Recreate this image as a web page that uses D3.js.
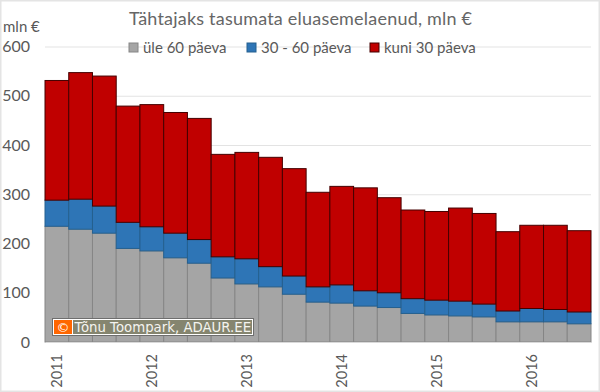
<!DOCTYPE html>
<html lang="et">
<head>
<meta charset="UTF-8">
<title>Tähtajaks tasumata eluasemelaenud</title>
<script src="https://d3js.org/d3.v7.min.js"></script>
<style>
    html, body { margin: 0; padding: 0; background: #fff; }
    svg { display: block; }
    text { font-family: Lato, "Open Sans", sans-serif; fill: #595959; }
</style>
</head>
<body>
<svg width="600" height="392"></svg>
<script>
// kvartalid 2011 Q1 - 2016 Q3
const quarters = ["2011-1","2011-2","2011-3","2011-4","2012-1","2012-2","2012-3","2012-4",
    "2013-1","2013-2","2013-3","2013-4","2014-1","2014-2","2014-3","2014-4",
    "2015-1","2015-2","2015-3","2015-4","2016-1","2016-2","2016-3"];
const yearTicks = ["2011-1","2012-1","2013-1","2014-1","2015-1","2016-1"];
const yTicks = [0, 100, 200, 300, 400, 500, 600];

const seriesKeys = ["yle60", "v30_60", "kuni30"];
const seriesNames = ["üle 60 päeva", "30 - 60 päeva", "kuni 30 päeva"];
const seriesColors = ["#a5a5a5", "#2e75b6", "#c00000"];
const seriesEdges = ["#868686", "#25608f", "#450000"];

const yle60 = [235, 229, 221, 190, 185, 171, 160, 130, 118, 112, 97, 81, 79, 73, 70, 58, 55, 53, 51, 41, 41, 41, 37];
const v30_60 = [53, 61, 55, 53, 49, 50, 48, 43, 51, 41, 37, 31, 37, 31, 30, 30, 30, 30, 26, 22, 27, 25, 24];
const kuni30 = [243, 257, 264, 236, 248, 245, 246, 208, 216, 222, 218, 192, 200, 209, 193, 180, 180, 189, 184, 161, 169, 171, 165];

const table = quarters.map((q, i) => ({ q, yle60: yle60[i], v30_60: v30_60[i], kuni30: kuni30[i] }));

const margin = { top: 46.5, right: 9, bottom: 50, left: 45 };
const width = 600 - margin.left - margin.right;
const height = 392 - margin.top - margin.bottom;

const svg = d3.select("svg");

// pildi raam
svg.append("rect")
    .attr("x", 0.5).attr("y", 0.5)
    .attr("width", 599).attr("height", 391)
    .attr("fill", "#fff")
    .attr("stroke", "#e4e4e4")
    .attr("stroke-width", 2);

const g = svg.append("g").attr("transform", `translate(${margin.left},${margin.top})`);

const x = d3.scaleBand().domain(quarters).range([0, width]).padding(0);
const y = d3.scaleLinear().domain([0, 600]).range([height, 0]);

// ruudustik ja y-telg
const yAxis = g.append("g")
    .call(d3.axisLeft(y).tickValues(yTicks).tickSize(-width).tickPadding(15));
yAxis.select(".domain").remove();
yAxis.selectAll("line").attr("stroke", "#e3e3e3").attr("stroke-width", 1);
yAxis.selectAll("text").style("font-size", "16px").style("fill", "#595959");

// tulbad
const stack = d3.stack().keys(seriesKeys)(table);
g.selectAll(".serie")
    .data(stack)
    .join("g")
    .attr("class", "serie")
    .attr("fill", (d, i) => seriesColors[i])
    .attr("stroke", (d, i) => seriesEdges[i])
    .selectAll("rect")
    .data(d => d)
    .join("rect")
    .attr("x", d => x(d.data.q))
    .attr("y", d => y(d[1]))
    .attr("width", x.bandwidth())
    .attr("height", d => y(d[0]) - y(d[1]));

// x-telg
const xAxis = g.append("g")
    .attr("transform", `translate(0,${height})`)
    .call(d3.axisBottom(x).tickValues(yearTicks).tickFormat(d => d.slice(0, 4)).tickSize(0));
xAxis.select(".domain").attr("stroke", "#d9d9d9");
xAxis.selectAll("text")
    .attr("transform", "rotate(-90)")
    .attr("text-anchor", "end")
    .attr("x", -12)
    .attr("y", 0)
    .attr("dy", "0.35em")
    .style("font-size", "14.5px")
    .style("fill", "#595959");

// pealkiri
svg.append("text")
    .attr("x", 129).attr("y", 25)
    .attr("textLength", 343)
    .attr("lengthAdjust", "spacing")
    .style("font-size", "18px")
    .style("fill", "#666")
    .text("Tähtajaks tasumata eluasemelaenud, mln €");

svg.append("text")
    .attr("x", 3).attr("y", 32)
    .style("font-size", "15px")
    .text("mln €");

// legend
const legendX = [129, 247, 370];
const legend = svg.selectAll(".legend")
    .data(seriesNames)
    .join("g")
    .attr("class", "legend")
    .attr("transform", (d, i) => `translate(${legendX[i]},43)`);
legend.append("rect")
    .attr("width", 9).attr("height", 9)
    .attr("fill", (d, i) => seriesColors[i])
    .attr("stroke", (d, i) => seriesEdges[i]);
legend.append("text")
    .attr("x", 14).attr("y", 10)
    .style("font-size", "15px")
    .text(d => d);

// autori märk
const mark = svg.append("g").attr("transform", "translate(52.5,318.5)");
mark.append("rect").attr("width", 201).attr("height", 17).attr("fill", "#fff").attr("stroke", "#6e6e6e");
mark.append("rect").attr("x", 1.5).attr("y", 1.5).attr("width", 18).attr("height", 14).attr("fill", "#ff6600");
mark.append("rect").attr("x", 20.5).attr("y", 1.5).attr("width", 179).attr("height", 14).attr("fill", "#85856f");
mark.append("text").attr("x", 10.5).attr("y", 13).attr("text-anchor", "middle")
    .style("font-family", "DejaVu Sans").style("font-size", "13px").style("fill", "#fff").text("©");
mark.append("text").attr("x", 22).attr("y", 13)
    .style("font-family", "DejaVu Sans").style("font-size", "13.3px").style("fill", "#f4f4f0").text("Tõnu Toompark, ADAUR.EE");
</script>
</body>
</html>
